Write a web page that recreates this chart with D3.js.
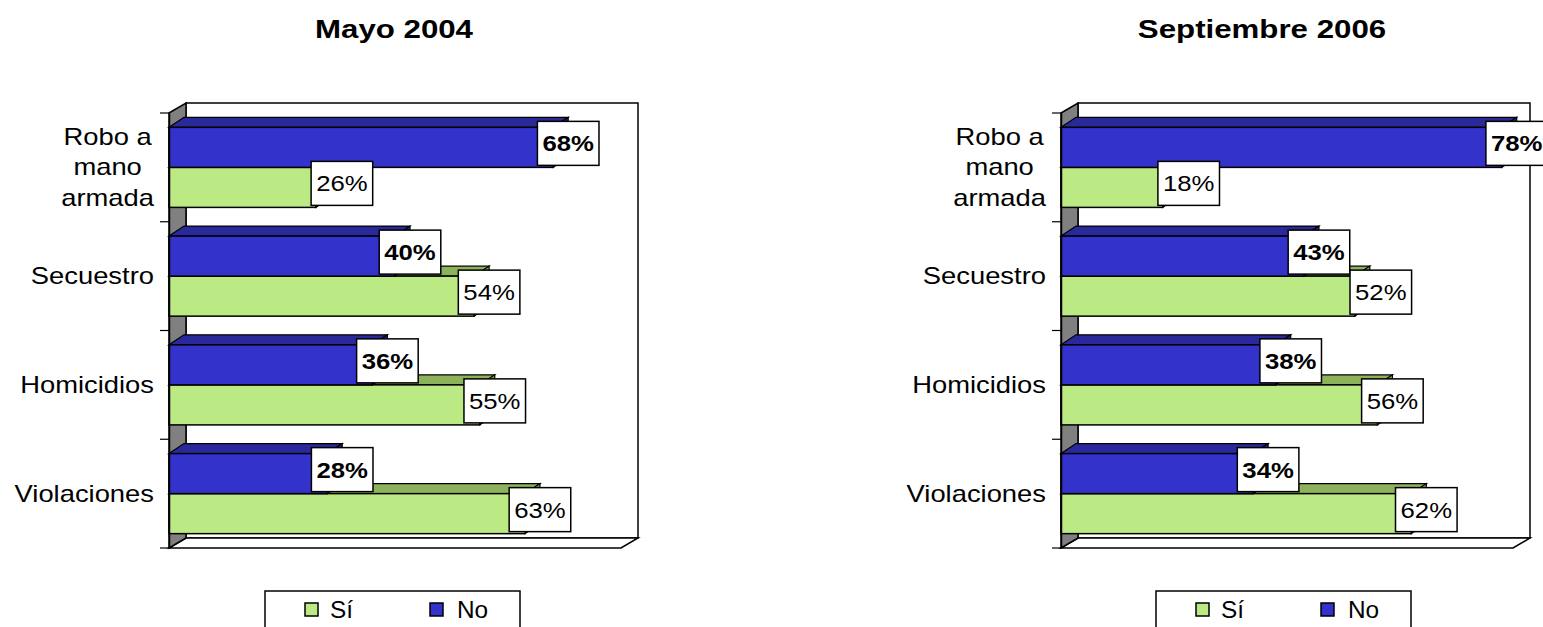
<!DOCTYPE html>
<html>
<head>
<meta charset="utf-8">
<script src="https://cdn.jsdelivr.net/npm/d3@7"></script>
<style>
  body { margin: 0; background: #fff; }
  text { font-family: "Liberation Sans", Arial, sans-serif; fill: #000; }
</style>
</head>
<body>
<svg id="chart" width="1543" height="627"></svg>
<script>
// data
const categories = ['Robo a mano armada', 'Secuestro', 'Homicidios', 'Violaciones'];
const categoryLines = [['Robo a', 'mano', 'armada'], ['Secuestro'], ['Homicidios'], ['Violaciones']];
const seriesNames = ['No', 'Sí'];
const legendOrder = ['Sí', 'No'];
const si2004 = [26, 54, 55, 63];
const no2004 = [68, 40, 36, 28];
const si2006 = [18, 52, 56, 62];
const no2006 = [78, 43, 38, 34];
const xMax = 80;

const colors = {
  No: { front: '#3333cc', top: '#29299c', side: '#23238a' },
  'Sí': { front: '#bbe983', top: '#8db25c', side: '#7fa152' }
};

const svg = d3.select('#chart');
const WALL_DX = 17, WALL_DY = 10;   // depth of the plot box
const BAR_DX = 15, BAR_DY = 10;     // depth of the bars
const TOP = 113, BOTTOM = 548;

const panels = [
  { title: 'Mayo 2004', titleX: 394, left: 169, legendX: 265, si: si2004, no: no2004 },
  { title: 'Septiembre 2006', titleX: 1262, left: 1061, legendX: 1156, si: si2006, no: no2006 }
];

// the text in the picture is drawn wider than normal
function wideText(sel, x, y, s) {
  return sel.attr('transform', `translate(${x},${y}) scale(${s},1)`);
}

function drawPanel(p) {
  const g = svg.append('g');
  const x = d3.scaleLinear().domain([0, xMax]).range([p.left, p.left + 452]);
  const y = d3.scaleBand().domain(categories).range([TOP, BOTTOM])
    .paddingInner(0.264).paddingOuter(0.132);
  const ySub = d3.scaleBand().domain(seriesNames).range([0, y.bandwidth()]);
  const x0 = x(0), x1 = x(xMax);

  // title
  wideText(g.append('text'), p.titleX, 38, 1.25)
    .attr('text-anchor', 'middle')
    .style('font-size', '25px').style('font-weight', 'bold')
    .text(p.title);

  // back wall, floor, side wall
  g.append('rect')
    .attr('x', x0 + WALL_DX).attr('y', TOP - WALL_DY)
    .attr('width', x1 - x0).attr('height', BOTTOM - TOP)
    .attr('fill', '#fff').attr('stroke', '#000').attr('stroke-width', 1.5);
  g.append('polygon')
    .attr('points', [[x0, BOTTOM], [x0 + WALL_DX, BOTTOM - WALL_DY], [x1 + WALL_DX, BOTTOM - WALL_DY], [x1, BOTTOM]].join(' '))
    .attr('fill', '#fff').attr('stroke', '#000').attr('stroke-width', 1.5);
  g.append('polygon')
    .attr('points', [[x0, TOP], [x0 + WALL_DX, TOP - WALL_DY], [x0 + WALL_DX, BOTTOM - WALL_DY], [x0, BOTTOM]].join(' '))
    .attr('fill', '#808080').attr('stroke', '#000').attr('stroke-width', 1.5);

  // bars: Sí first so the No bar covers its top face
  const rows = categories.map((c, i) => ({ cat: c, No: p.no[i], 'Sí': p.si[i] }));
  ['Sí', 'No'].forEach((s) => {
    rows.forEach((r) => {
      const yt = y(r.cat) + ySub(s);
      const yb = yt + ySub.bandwidth();
      const xe = x(r[s]);
      const c = colors[s];
      g.append('polygon')
        .attr('points', [[x0, yt], [x0 + BAR_DX, yt - BAR_DY], [xe + BAR_DX, yt - BAR_DY], [xe, yt]].join(' '))
        .attr('fill', c.top).attr('stroke', '#000').attr('stroke-width', 1.2);
      g.append('polygon')
        .attr('points', [[xe, yt], [xe + BAR_DX, yt - BAR_DY], [xe + BAR_DX, yb - BAR_DY], [xe, yb]].join(' '))
        .attr('fill', c.side).attr('stroke', '#000').attr('stroke-width', 1.2);
      g.append('rect')
        .attr('x', x0).attr('y', yt).attr('width', xe - x0).attr('height', yb - yt)
        .attr('fill', c.front).attr('stroke', '#000').attr('stroke-width', 1.5);
    });
  });

  // category axis
  const axis = g.append('g')
    .attr('transform', `translate(${x0},0)`)
    .call(d3.axisLeft(y).tickSize(0).tickSizeOuter(0));
  axis.select('.domain').attr('stroke', '#000').attr('stroke-width', 1.5);
  axis.selectAll('.tick text').each(function (d, i) {
    const t = d3.select(this).text(null).attr('x', 0).attr('dy', null)
      .style('font-size', '23px').attr('text-anchor', 'middle');
    const lines = categoryLines[i];
    const lh = 30.5;
    let maxW = 0;
    lines.forEach((ln, k) => {
      const ts = t.append('tspan').attr('x', 0)
        .attr('y', (k - (lines.length - 1) / 2) * lh + 8).text(ln);
      maxW = Math.max(maxW, ts.node().getComputedTextLength());
    });
    wideText(t, -15 - (maxW * 1.19) / 2, 0, 1.19);
  });
  // tick marks between the categories
  const bounds = categories.map((c) => y(c) - (y.paddingInner() * y.step()) / 2).concat([BOTTOM]);
  g.selectAll('line.tk').data(bounds).join('line')
    .attr('x1', x0 - 9).attr('x2', x0).attr('y1', (d) => d).attr('y2', (d) => d)
    .attr('stroke', '#000').attr('stroke-width', 1.2);

  // value labels, centred on the back end of each bar
  const boxes = {};
  ['No', 'Sí'].forEach((s) => {
    rows.forEach((r) => {
      const yc = y(r.cat) + ySub(s) + ySub.bandwidth() / 2 - 4;
      let xc = x(r[s]) + BAR_DX;
      const lg = g.append('g');
      const t = lg.append('text').attr('text-anchor', 'middle')
        .style('font-size', '23px').style('font-weight', s === 'No' ? 'bold' : 'normal')
        .text(`${r[s]}%`);
      const w = t.node().getComputedTextLength() * 1.12 + 10;
      // nudge the Sí label right when it would run into the No label
      const other = boxes[r.cat];
      if (other && xc - w / 2 < other.x2 && yc - 22 < other.y2) xc += 11;
      boxes[r.cat] = { x2: xc + w / 2, y2: yc + 22 };
      wideText(t, xc, yc + 8, 1.12);
      lg.insert('rect', 'text')
        .attr('x', xc - w / 2).attr('y', yc - 22).attr('width', w).attr('height', 44)
        .attr('fill', '#fff').attr('stroke', '#000').attr('stroke-width', 1.5);
    });
  });

  // legend
  const lx = p.legendX;
  g.append('rect').attr('x', lx).attr('y', 591).attr('width', 255).attr('height', 60)
    .attr('fill', '#fff').attr('stroke', '#000').attr('stroke-width', 1.5);
  legendOrder.forEach((s, i) => {
    const sx = lx + 40 + i * 125;
    g.append('rect').attr('x', sx).attr('y', 603).attr('width', 13).attr('height', 13)
      .attr('fill', colors[s].front).attr('stroke', '#000').attr('stroke-width', 1.5);
    wideText(g.append('text'), sx + 25 + (s === 'No' ? 2 : 0), 618, 1.06)
      .style('font-size', '23px').text(s);
  });
}

panels.forEach(drawPanel);
</script>
</body>
</html>
